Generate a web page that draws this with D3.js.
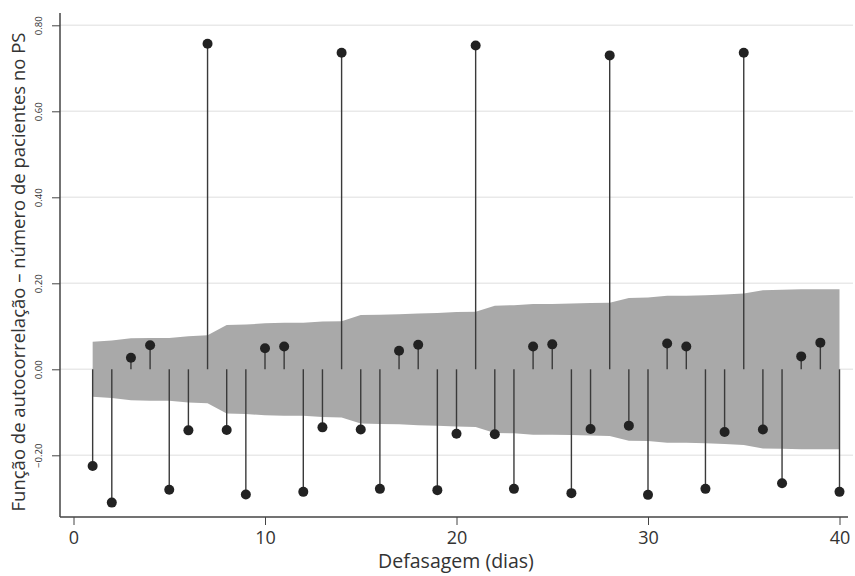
<!DOCTYPE html>
<html>
<head>
<meta charset="utf-8">
<script src="https://cdn.jsdelivr.net/npm/d3@7"></script>
<style>
  body { margin: 0; background: #fff; }
  text { font-family: "Open Sans", sans-serif; fill: #333; }
</style>
</head>
<body>
<div id="chart"></div>
<script>
// lags 1..40
const lags = d3.range(1, 41)

// autocorrelation at each lag
const acf = [
  -0.225, -0.310, 0.027, 0.056, -0.280, -0.142, 0.757, -0.141, -0.291, 0.049,
  0.053, -0.285, -0.135, 0.736, -0.140, -0.278, 0.043, 0.057, -0.281, -0.150,
  0.753, -0.151, -0.278, 0.053, 0.058, -0.288, -0.139, 0.730, -0.131, -0.292,
  0.060, 0.053, -0.278, -0.146, 0.736, -0.140, -0.265, 0.030, 0.062, -0.285
]

// half width of the grey confidence band at each lag
const band = [
  0.064, 0.067, 0.072, 0.073, 0.073, 0.077, 0.079, 0.103, 0.104, 0.107,
  0.108, 0.108, 0.111, 0.112, 0.126, 0.127, 0.128, 0.130, 0.131, 0.133,
  0.134, 0.148, 0.149, 0.152, 0.152, 0.153, 0.154, 0.155, 0.166, 0.167,
  0.171, 0.171, 0.172, 0.174, 0.176, 0.184, 0.185, 0.186, 0.186, 0.186
]

const yTicks = [-0.2, 0, 0.2, 0.4, 0.6, 0.8]
const xTicks = [0, 10, 20, 30, 40]

const width = 855
const height = 576

const svg = d3.select('#chart')
  .append('svg')
  .attr('width', width)
  .attr('height', height)

//scales
const x = d3.scaleLinear().domain([0, 40]).range([73.5, 839.5])
const y = d3.scaleLinear().domain([-0.2, 0.8]).range([455.3, 25.3])

const left = 60
const bottom = 517

// gridlines
svg.append('g')
  .selectAll('line')
  .data(yTicks)
  .enter()
  .append('line')
  .attr('x1', left)
  .attr('x2', 853)
  .attr('y1', d => y(d))
  .attr('y2', d => y(d))
  .attr('stroke', '#e9e9e9')
  .attr('stroke-width', 1.5)

const rows = lags.map((l, i) => ({ lag: l, r: acf[i], b: band[i] }))

// confidence band
const area = d3.area()
  .x(d => x(d.lag))
  .y0(d => y(-d.b))
  .y1(d => y(d.b))

svg.append('path')
  .datum(rows)
  .attr('d', area)
  .attr('fill', '#a9a9a9')

// stems
svg.append('g')
  .selectAll('line')
  .data(rows)
  .enter()
  .append('line')
  .attr('x1', d => x(d.lag))
  .attr('x2', d => x(d.lag))
  .attr('y1', y(0))
  .attr('y2', d => y(d.r))
  .attr('stroke', '#3a3a3a')
  .attr('stroke-width', 1.4)

// dots
svg.append('g')
  .selectAll('circle')
  .data(rows)
  .enter()
  .append('circle')
  .attr('cx', d => x(d.lag))
  .attr('cy', d => y(d.r))
  .attr('r', 5)
  .attr('fill', '#222')

// axes
const yAxis = svg.append('g')
  .attr('transform', `translate(${left},0)`)
  .call(d3.axisLeft(y).tickValues(yTicks).tickSize(8).tickSizeOuter(0).tickFormat(d3.format('.2f')))

yAxis.select('.domain').remove()
yAxis.selectAll('.tick line').attr('stroke', '#444')
yAxis.selectAll('.tick text')
  .attr('transform', 'rotate(-90)')
  .attr('x', 0)
  .attr('y', -18)
  .attr('dy', 0)
  .attr('text-anchor', 'middle')
  .style('font-size', '9.5px')
  .style('font-family', '"Open Sans", sans-serif')
  .attr('fill', '#333')

const xAxis = svg.append('g')
  .attr('transform', `translate(0,${bottom})`)
  .call(d3.axisBottom(x).tickValues(xTicks).tickSize(8).tickSizeOuter(0).tickFormat(d3.format('d')))

xAxis.select('.domain').remove()
xAxis.selectAll('.tick line').attr('stroke', '#444')
xAxis.selectAll('.tick text')
  .attr('y', 27)
  .attr('dy', 0)
  .style('font-size', '18px')
  .style('font-family', '"Open Sans", sans-serif')
  .attr('fill', '#333')

// axis lines
svg.append('line')
  .attr('x1', left).attr('x2', left)
  .attr('y1', 13).attr('y2', bottom)
  .attr('stroke', '#444').attr('stroke-width', 1.5)

svg.append('line')
  .attr('x1', left).attr('x2', 848)
  .attr('y1', bottom).attr('y2', bottom)
  .attr('stroke', '#444').attr('stroke-width', 1.5)

// titles
svg.append('text')
  .attr('x', 456)
  .attr('y', 568)
  .attr('text-anchor', 'middle')
  .style('font-size', '19.5px')
  .text('Defasagem (dias)')

svg.append('text')
  .attr('transform', 'translate(25,272) rotate(-90)')
  .attr('text-anchor', 'middle')
  .style('font-size', '18.5px')
  .text('Função de autocorrelação – número de pacientes no PS')
</script>
</body>
</html>
